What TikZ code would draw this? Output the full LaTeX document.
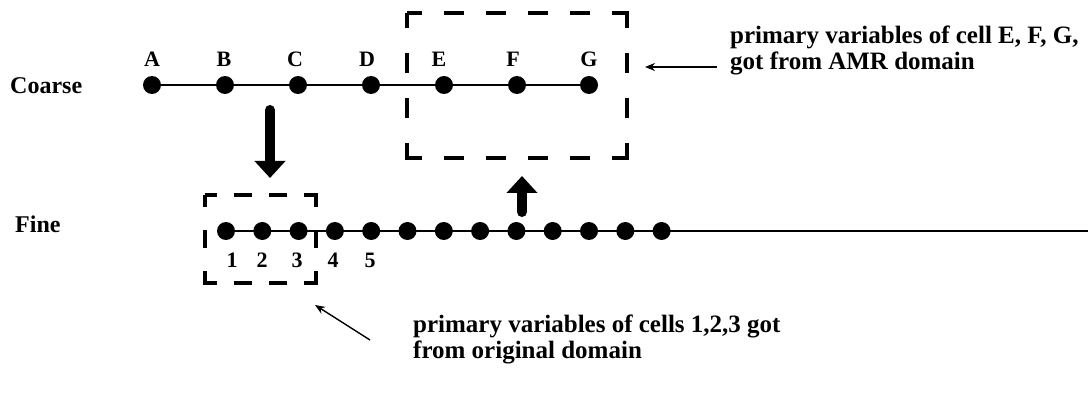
\documentclass[tikz,border=0pt]{standalone}
\usepackage{fontspec}
\setmainfont{Liberation Serif}
\usetikzlibrary{arrows.meta}
\begin{document}
\begin{tikzpicture}[x=1pt,y=-1pt,
  dot/.style={circle,fill=black,inner sep=0pt,minimum size=18pt},
  letter/.style={font=\fontsize{22}{24}\selectfont\bfseries,inner sep=0pt,anchor=base},
  rowlabel/.style={font=\fontsize{24}{26}\selectfont\bfseries,inner sep=0pt,anchor=base west},
  note/.style={font=\fontsize{25}{26}\selectfont\bfseries,inner sep=0pt,anchor=base west,align=left},
  thinline/.style={line width=1.4pt},
  bigarrow/.style={line width=10pt,line cap=round,-{Triangle[width=30pt,length=17pt]}},
  pointer/.style={line width=1.4pt,-{Stealth[length=10pt,width=8pt]}},
  bigbox/.style={line width=4pt,line join=miter,
    dash pattern=on 15pt off 22pt on 20pt off 22pt on 20pt off 22pt on 20pt off 22pt on 20pt off 22pt
                 on 30pt off 25pt on 20pt off 25pt on 20pt off 25pt
                 on 30pt off 22pt on 20pt off 22pt on 20pt off 22pt on 20pt off 22pt on 20pt off 22pt
                 on 30pt off 25pt on 20pt off 25pt on 20pt off 25pt on 15pt},
  smallbox/.style={line width=4pt,line join=miter,
    dash pattern=on 12pt off 17pt on 18pt off 17pt on 18pt off 17pt
                 on 24pt off 23pt on 18pt off 23pt
                 on 24pt off 17pt on 18pt off 17pt on 18pt off 17pt
                 on 24pt off 23pt on 18pt off 23pt on 12pt},
]
\useasboundingbox (0,0) rectangle (1088,393);

% row labels
\node[rowlabel] (coarse) at (10,94) {Coarse};
\node[rowlabel] (fine) at (15,233) {Fine};

% coarse cells
\foreach \i/\x in {1/152,2/225,3/298,4/371,5/444,6/517,7/589}
  \node[dot] (c\i) at (\x,85) {};
\draw[thinline] (c1.center) -- (c7.center);
\foreach \i/\x/\t in {1/152/A,2/224/B,3/295/C,4/367/D,5/439/E,6/513/F,7/589/G}
  \node[letter] (l\i) at (\x,67) {\t};

% fine cells
\foreach \i in {1,...,13}
  \node[dot] (f\i) at ({226+36.3*(\i-1)},231) {};
\coordinate (fend) at (1088,231);
\draw[thinline] (f1.center) -- (fend);
\foreach \i/\x in {1/232,2/262,3/297,4/333,5/370}
  \node[letter] (n\i) at (\x,267) {\i};

% dashed boxes
\coordinate (bA) at (407,13);
\coordinate (bB) at (627,13);
\coordinate (bC) at (627,158);
\coordinate (bD) at (407,158);
\draw[bigbox] (bA) -- (bB) -- (bC) -- (bD) -- cycle;

\coordinate (sA) at (205,195);
\coordinate (sB) at (316,195);
\coordinate (sC) at (316,283);
\coordinate (sD) at (205,283);
\draw[smallbox] (sA) -- (sB) -- (sC) -- (sD) -- cycle;

% thick arrows
\coordinate (downS) at (270,110);
\coordinate (downE) at (270,178);
\draw[bigarrow] (downS) -- (downE);
\coordinate (upS) at (522,212);
\coordinate (upE) at (522,176);
\draw[bigarrow] (upS) -- (upE);

% notes
\node[note] (noteA) at (730,70) {primary variables of cell E, F, G,\\got from AMR domain};
\coordinate (pA1) at (717,67);
\coordinate (pA2) at (645,67);
\draw[pointer] (pA1) -- (pA2);

\node[note] (noteB) at (413,358) {primary variables of cells 1,2,3 got\\from original domain};
\coordinate (pB1) at (370,340);
\coordinate (pB2) at (315,305);
\draw[pointer] (pB1) -- (pB2);
\end{tikzpicture}
\end{document}
